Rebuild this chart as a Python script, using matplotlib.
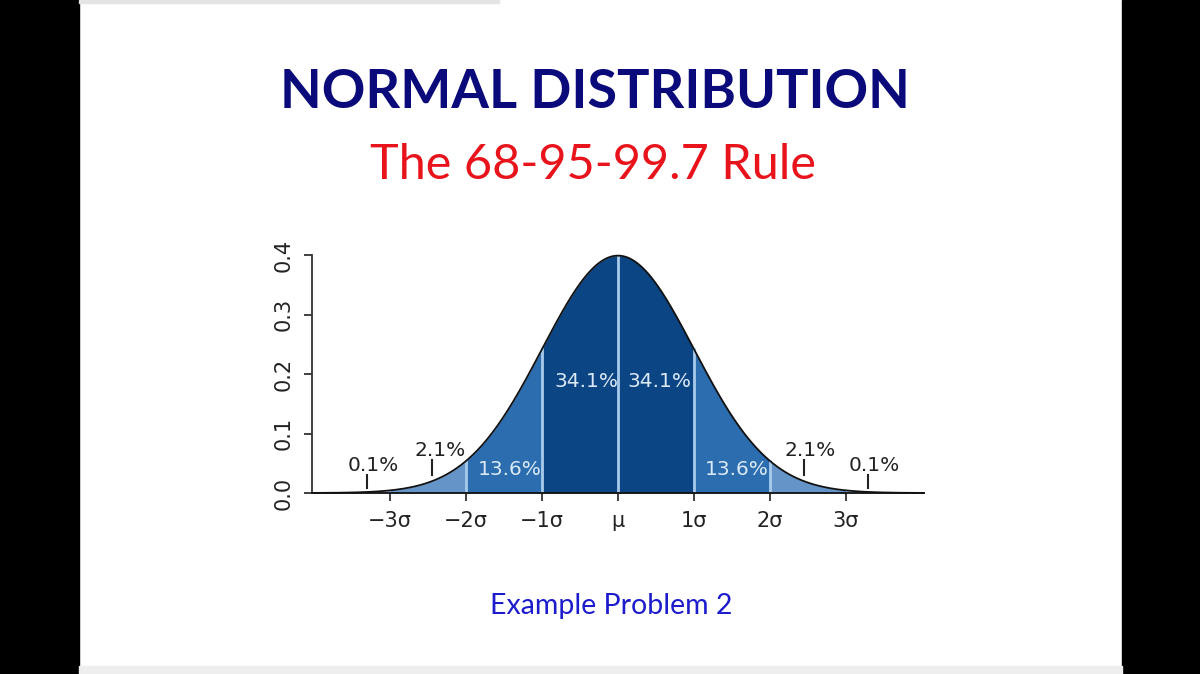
import numpy as np
import matplotlib
matplotlib.use('Agg')
import matplotlib.pyplot as plt
from matplotlib.patches import Rectangle

# ขอบเขตของแต่ละช่วง (หน่วย sigma) และสีของช่วง
bounds = [-4, -3, -2, -1, 0, 1, 2, 3, 4]
band_colors = ['#9dbde0', '#6494c8', '#2b6daf', '#0c4584',
               '#0c4584', '#2b6daf', '#6494c8', '#9dbde0']
divider_at = [-2, -1, 0, 1, 2]

# เปอร์เซ็นต์ของแต่ละช่วง
pct_left = ['0.1%', '2.1%', '13.6%', '34.1%']
pct_right = ['34.1%', '13.6%', '2.1%', '0.1%']

xtick_pos = [-3, -2, -1, 0, 1, 2, 3]
xtick_labels = ['\u22123\u03c3', '\u22122\u03c3', '\u22121\u03c3', '\u03bc', '1\u03c3', '2\u03c3', '3\u03c3']
ytick_pos = [0.0, 0.1, 0.2, 0.3, 0.4]


def pdf(x):
    return np.exp(-x ** 2 / 2) / np.sqrt(2 * np.pi)


fig = plt.figure(figsize=(12, 6.74), dpi=100)
fig.patch.set_facecolor('white')

# ขอบดำซ้ายขวา
fig.add_artist(Rectangle((0, 0), 79 / 1200, 1, transform=fig.transFigure, color='black', zorder=0))
fig.add_artist(Rectangle((1122 / 1200, 0), 78 / 1200, 1, transform=fig.transFigure, color='black', zorder=0))
fig.add_artist(Rectangle((79 / 1200, 0), 1043 / 1200, 8 / 674, transform=fig.transFigure,
                         color='#eeeeee', zorder=0))
fig.add_artist(Rectangle((79 / 1200, 671 / 674), 420 / 1200, 3 / 674, transform=fig.transFigure,
                         color='#e4e4e4', zorder=0))

ax = fig.add_axes([312 / 1200, 181 / 674, 612 / 1200, 238 / 674])
ax.set_xlim(-4.03, 4.03)
ax.set_ylim(0, 0.4)

for i in range(len(bounds) - 1):
    xs = np.linspace(bounds[i], bounds[i + 1], 200)
    ax.fill_between(xs, 0, pdf(xs), color=band_colors[i], lw=0)

for d in divider_at:
    ax.plot([d, d], [0, pdf(d)], color='#a9cbeb', lw=2)

xx = np.linspace(-4.03, 4.03, 600)
ax.plot(xx, pdf(xx), color='#111111', lw=1.3, clip_on=False)

# ป้ายเปอร์เซ็นต์
lab_x_left = [-3.22, -2.34, -1.43, -0.42]
lab_y_left = [0.047, 0.071, 0.04, 0.187]
lab_x_right = [0.55, 1.57, 2.53, 3.38]
lab_y_right = [0.187, 0.04, 0.071, 0.047]
lab_c_left = ['#222222', '#222222', '#dce9f6', '#dce9f6']
lab_c_right = ['#dce9f6', '#dce9f6', '#222222', '#222222']
for t, x, y, c in zip(pct_left + pct_right, lab_x_left + lab_x_right,
                      lab_y_left + lab_y_right, lab_c_left + lab_c_right):
    ax.text(x, y, t, ha='center', va='center', fontsize=14.5, color=c, family='DejaVu Sans')

# เส้นชี้เล็กๆ
for x, y0, y1 in [(-3.3, 0.008, 0.030), (-2.45, 0.030, 0.055), (2.45, 0.030, 0.055), (3.29, 0.008, 0.030)]:
    ax.plot([x, x], [y0, y1], color='#222222', lw=1.5)

for s in ['top', 'right']:
    ax.spines[s].set_visible(False)
ax.spines['left'].set_bounds(0, 0.4)
ax.spines['left'].set_color('#333333')
ax.spines['bottom'].set_color('#111111')
ax.spines['left'].set_linewidth(1.3)
ax.spines['bottom'].set_linewidth(1.3)
ax.set_xticks(xtick_pos)
ax.set_xticklabels(xtick_labels, fontsize=15, color='#222222')
ax.set_yticks(ytick_pos)
ax.set_yticklabels(['%.1f' % v for v in ytick_pos], fontsize=15, color='#222222', rotation=90, va='center')
ax.tick_params(axis='both', length=6, width=1.3, color='#333333')
ax.tick_params(axis='x', pad=7)
ax.tick_params(axis='y', pad=7)
ax.patch.set_alpha(0)

fig.text(595 / 1200, 1 - 93 / 674, 'NORMAL DISTRIBUTION', ha='center', va='center',
         fontsize=39, fontweight='bold', color='#0a0a7a', family='Lato')
fig.text(593 / 1200, 1 - 165 / 674, 'The 68-95-99.7 Rule', ha='center', va='center',
         fontsize=35, fontweight='normal', color='#e8131b', family='Lato')
fig.text(611 / 1200, 1 - 606 / 674, 'Example Problem 2', ha='center', va='center',
         fontsize=20.5, color='#1c1ccc', family='Lato')

fig.savefig('out.png', dpi=100, facecolor='white')
